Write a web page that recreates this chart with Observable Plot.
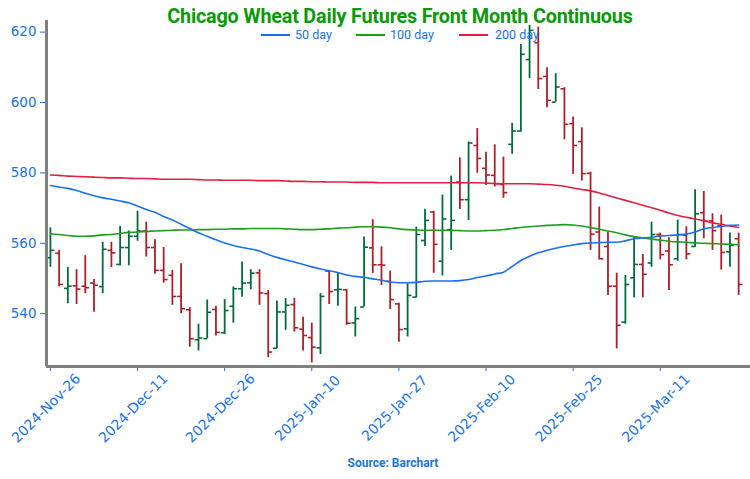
<!DOCTYPE html>
<html>
<head>
<meta charset="utf-8">
<script src="https://cdn.jsdelivr.net/npm/d3@7"></script>
<script src="https://cdn.jsdelivr.net/npm/@observablehq/plot@0.6"></script>
<style>
  body { margin: 0; background: #fff; }
  #wrap { position: relative; width: 750px; height: 479px; overflow: hidden; font-family: Roboto, "Liberation Sans", sans-serif; }
  #title { position: absolute; left: 0; width: 800px; top: 5px; text-align: center; font-weight: bold; font-size: 19.8px; color: #0a9a0a; letter-spacing: -0.2px; }
  .item { position: absolute; top: 27px; font-size: 12.5px; color: #1a73e8; white-space: nowrap; display: flex; align-items: center; }
  .sw { display: inline-block; width: 29px; height: 2px; margin-right: 5px; }
  #source { position: absolute; left: 0; width: 786px; top: 456px; text-align: center; font-weight: bold; font-size: 12px; color: #1a73e8; }
</style>
</head>
<body>
<div id="wrap">
  <div id="chart"></div>
  <div id="title">Chicago Wheat Daily Futures Front Month Continuous</div>
  <div class="item" style="left:261px"><span class="sw" style="background:#1a6ff0"></span>50 day</div>
  <div class="item" style="left:356px"><span class="sw" style="background:#1e9e1e"></span>100 day</div>
  <div class="item" style="left:459px"><span class="sw" style="background:#e21f3f;margin-right:7px"></span>200 day</div>
  <div id="source">Source: Barchart</div>
</div>
<script>
const tickIndex = [0, 10, 20, 30, 40, 50, 60, 70];
const tickLabels = ["2024-Nov-26", "2024-Dec-11", "2024-Dec-26", "2025-Jan-10", "2025-Jan-27", "2025-Feb-10", "2025-Feb-25", "2025-Mar-11"];
const yTicks = [540, 560, 580, 600, 620];

const open = [555.9,557.2,547.2,547.9,547.8,548.7,547.7,558.0,554.0,558.8, 562.0,563.5,558.8,552.3,550.9,544.9,541.1,532.6,532.9,541.2, 534.6,542.1,547.1,548.8,551.6,545.7,530.2,540.5,542.6,535.6, 533.2,530.3,552.1,546.8,546.8,537.4,541.9,558.7,553.9,549.2, 542.8,535.7,544.7,560.8,568.9,554.9,563.9,577.4,572.4,587.8, 581.3,579.3,576.7,588.1,591.9,612.2,617.0,607.4,600.1,603.9, 594.0,588.9,579.9,563.2,559.1,547.8,537.6,550.2,554.0,554.4, 562.5,557.8,555.6,562.3,559.1,568.7,566.4,565.0,557.6,561.3];
const high = [564.4,558.0,553.1,552.5,556.5,549.7,560.3,560.3,564.8,563.5, 569.1,566.0,561.0,558.8,552.3,554.2,541.7,537.0,543.9,542.1, 544.0,547.6,554.7,552.5,552.5,546.6,543.6,544.3,544.4,539.0, 537.3,545.7,552.3,551.4,546.9,541.9,561.8,566.7,559.0,552.1, 543.0,548.5,564.6,569.7,569.1,573.7,579.1,584.3,588.8,592.6, 585.9,588.0,584.5,594.1,616.5,621.9,621.4,609.9,608.2,604.2, 595.9,592.8,580.2,570.3,563.2,551.5,550.9,561.8,556.8,566.0, 562.9,561.6,566.6,564.7,575.2,574.7,568.4,568.0,562.9,562.9];
const low = [553.2,547.6,542.8,542.6,545.7,540.4,545.7,553.1,553.6,553.6, 560.6,556.1,551.2,548.7,542.4,540.0,530.5,529.4,532.9,533.7, 534.1,537.3,544.7,546.8,542.4,527.5,530.1,535.3,534.8,529.4, 526.0,528.4,542.6,542.1,536.7,533.4,541.9,551.4,548.0,541.2, 531.9,533.4,544.5,559.1,551.5,550.7,558.0,569.6,566.5,579.9, 576.4,576.0,572.8,585.3,591.6,606.8,603.7,598.5,600.1,589.4, 579.6,577.7,558.0,555.3,545.2,530.0,537.0,544.5,544.5,553.2, 555.3,546.6,554.9,555.3,558.9,561.3,558.0,552.4,553.2,545.2];
const close = [558.0,548.3,547.8,547.0,547.4,548.1,558.3,557.3,558.8,562.0, 563.5,558.8,552.3,549.7,544.9,541.4,532.9,533.1,540.4,534.7, 540.9,547.1,548.7,551.5,545.9,529.1,540.5,542.4,536.0,533.8, 530.5,544.9,546.3,546.9,537.3,538.6,558.9,553.9,553.8,544.0, 535.5,545.2,562.5,566.5,559.7,566.9,566.5,572.4,588.5,584.1, 579.4,576.9,574.4,591.9,613.7,620.5,606.8,600.6,604.4,593.8, 587.8,579.8,562.6,555.6,547.8,536.7,548.3,554.0,551.2,562.5, 556.8,553.9,562.5,557.0,568.4,566.3,563.6,557.4,559.4,548.3];

const ma50 = [576.4,576.0,575.6,575.0,574.2,573.5,572.9,572.5,572.0,571.5, 570.6,569.6,568.8,567.6,566.6,565.4,564.2,563.0,562.0,561.0, 560.1,559.4,558.8,558.4,557.8,556.8,556.0,555.3,554.7,554.0, 553.3,552.7,552.2,551.7,551.0,550.6,550.3,549.9,549.5,549.0, 548.8,548.8,548.9,549.2,549.3,549.3,549.3,549.4,549.7,550.3, 550.7,551.3,551.8,553.4,555.1,556.3,557.3,558.0,558.6,559.1, 559.5,559.9,560.1,560.2,560.3,560.3,560.7,561.3,561.5,561.7, 562.1,562.2,562.4,562.6,563.2,564.1,564.5,564.8,565.1,565.2];
const ma100 = [562.7,562.5,562.2,562.0,562.0,562.1,562.4,562.5,562.8,563.1, 563.2,563.4,563.5,563.6,563.7,563.8,563.8,563.9,563.9,564.0, 564.0,564.1,564.1,564.2,564.2,564.2,564.2,564.1,564.0,563.9, 563.9,564.0,564.1,564.3,564.4,564.6,564.7,564.7,564.6,564.4, 564.1,563.9,563.8,563.7,563.7,563.7,563.7,563.6,563.5,563.5, 563.6,563.7,563.9,564.2,564.5,564.7,564.9,565.1,565.2,565.3, 565.2,564.9,564.5,564.0,563.5,563.0,562.4,561.9,561.5,561.2, 560.9,560.6,560.4,560.3,560.1,560.0,559.9,559.8,559.7,559.6];
const ma200 = [579.4,579.3,579.1,579.0,578.9,578.8,578.7,578.6,578.6,578.5, 578.4,578.4,578.3,578.2,578.2,578.2,578.2,578.1,578.0,578.0, 577.9,577.9,577.9,577.9,577.8,577.8,577.8,577.7,577.6,577.6, 577.5,577.5,577.4,577.4,577.4,577.3,577.3,577.3,577.2,577.2, 577.2,577.2,577.2,577.2,577.2,577.2,577.2,577.2,577.2,577.2, 577.1,577.0,576.9,576.9,576.9,576.9,576.8,576.7,576.5,576.2, 575.7,575.3,574.9,574.3,573.6,572.9,572.2,571.5,570.8,570.1, 569.4,568.6,567.9,567.4,566.9,566.4,565.8,565.4,564.9,564.5];

const UP = "#006b3c", DOWN = "#b01e28", AXIS = "#1a73e8";
const bars = open.map((o, i) => ({i, open: o, high: high[i], low: low[i], close: close[i], color: close[i] >= o ? UP : DOWN}));
const maRows = (arr) => arr.map((v, i) => ({i, v}));
const xLabels = tickIndex.map((t, k) => ({i: t, label: tickLabels[k]}));
const tw = 0.45;

const chart = Plot.plot({
  width: 750,
  height: 479,
  marginLeft: 46,
  marginRight: 0,
  marginTop: 20,
  marginBottom: 113,
  style: {fontFamily: "DejaVu Sans, sans-serif", fontSize: "13.5px", background: "white"},
  x: {type: "linear", domain: [-0.45, 80.36]},
  y: {domain: [525, 623.3]},
  marks: [
    Plot.ruleX(bars, {x: "i", y1: "low", y2: "high", stroke: "color", strokeWidth: 1.8}),
    Plot.link(bars, {x1: d => d.i - tw, x2: "i", y1: "open", y2: "open", stroke: "color", strokeWidth: 1.6}),
    Plot.link(bars, {x1: "i", x2: d => d.i + tw, y1: "close", y2: "close", stroke: "color", strokeWidth: 1.6}),
    Plot.line(maRows(ma200), {x: "i", y: "v", stroke: "#e21f3f", strokeWidth: 1.6, curve: "monotone-x"}),
    Plot.line(maRows(ma100), {x: "i", y: "v", stroke: "#1e9e1e", strokeWidth: 1.6, curve: "monotone-x"}),
    Plot.line(maRows(ma50), {x: "i", y: "v", stroke: "#1a6ff0", strokeWidth: 1.6, curve: "monotone-x"}),
    Plot.axisY({ticks: yTicks, tickSize: 6, tickPadding: 4, color: AXIS, label: null}),
    Plot.axisX({ticks: tickIndex, tickFormat: () => "", tickSize: 5, color: AXIS, label: null}),
    Plot.text(xLabels, {x: "i", text: "label", frameAnchor: "bottom", dy: 45, dx: -1, rotate: -45, textAnchor: "middle", fill: AXIS, fontSize: 14}),
    Plot.ruleX([-0.45], {stroke: "#808080", strokeWidth: 3}),
    Plot.ruleY([525], {stroke: "#808080", strokeWidth: 3})
  ]
});
document.getElementById("chart").appendChild(chart);
</script>
</body>
</html>
